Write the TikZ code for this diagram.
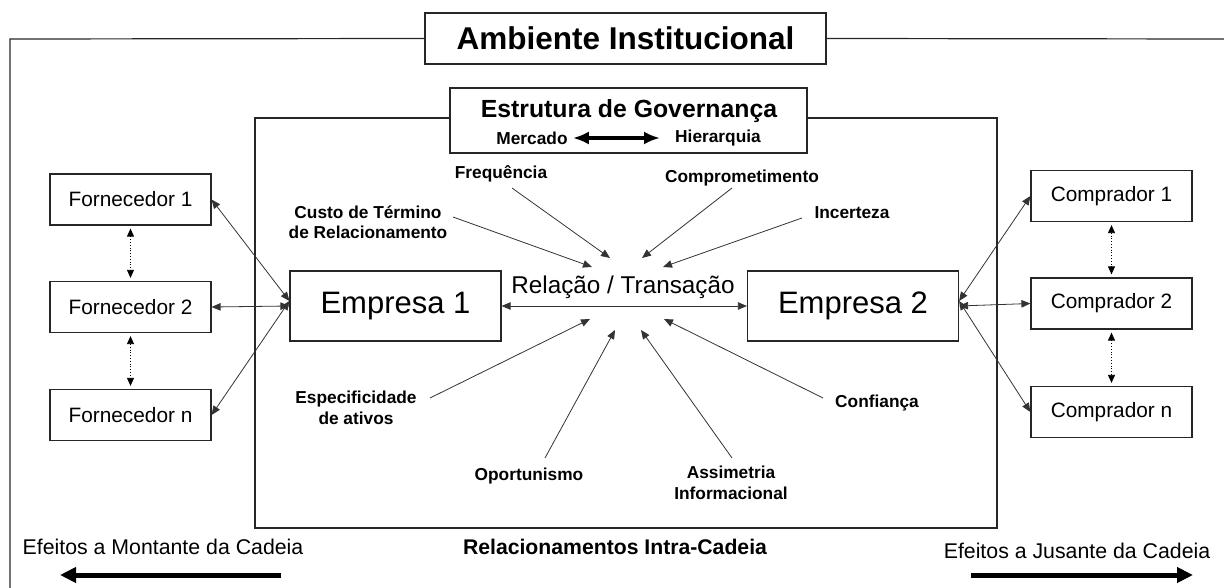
\documentclass[tikz,border=0pt]{standalone}
\usepackage{fontspec}
\setmainfont{Liberation Sans}
\usetikzlibrary{arrows.meta}
\begin{document}
\begin{tikzpicture}[x=1pt,y=-1pt,
  box/.style={draw=black!85, line width=1.2pt, fill=white, inner sep=0pt},
  chain/.style={box, minimum width=161pt, minimum height=51pt, font=\fontsize{20.8}{24}\selectfont},
  firm/.style={box, minimum width=211pt, minimum height=70pt, font=\fontsize{31}{36}\selectfont},
  lab/.style={font=\bfseries\fontsize{17.3}{20.5}\selectfont, align=center, inner sep=1pt},
  conn/.style={line width=0.8pt, draw=black!80, -{Triangle[length=9pt,width=7.5pt]}},
  bi/.style={line width=0.8pt, draw=black!80, {Triangle[length=9pt,width=7.5pt]}-{Triangle[length=9pt,width=7.5pt]}},
  dots/.style={line width=0.8pt, dotted, {Triangle[length=8pt,width=7pt]}-{Triangle[length=8pt,width=7pt]}, shorten <=3pt, shorten >=3pt},
  fat/.style={line width=5pt, -{Triangle[length=16pt,width=15pt]}}
]
\useasboundingbox (0,0) rectangle (1224,588);

% outer frame and title
\node[box, minimum width=401pt, minimum height=51pt, font=\bfseries\fontsize{31.5}{36}\selectfont] (amb) at (625.5,38.5) {Ambiente Institucional};
\coordinate (otl) at (10,39);
\coordinate (obl) at (10,588);
\coordinate (otr) at (1224,39);
\draw[line width=1.2pt, black!85] (amb.west) -- (otl) -- (obl);
\draw[line width=1.2pt, black!85] (amb.east) -- (otr);

% governance box and inner frame
\node[box, minimum width=357pt, minimum height=65pt] (est) at (628.5,120.5) {};
\coordinate (itl) at (255,118);
\coordinate (ibr) at (997,528);
\draw[line width=1.2pt, black!85] (est.west|-itl) -- (itl) -- (itl|-ibr) -- (ibr) -- (ibr|-itl) -- (est.east|-itl);
\node[font=\bfseries\fontsize{24.8}{28}\selectfont] (estt) at (629,111) {Estrutura de Governança};
\node[lab] (merc) at (532,138) {Mercado};
\node[lab] (hier) at (718,138) {Hierarquia};
\draw[line width=4pt, {Latex[length=16pt,width=13pt]}-{Latex[length=16pt,width=13pt]}, shorten <=4pt, shorten >=14pt] (merc.east) -- (hier.west);

% chain boxes
\node[chain] (f1) at (130.5,199.5) {Fornecedor 1};
\node[chain] (f2) at (130.5,307) {Fornecedor 2};
\node[chain] (fn) at (130.5,415) {Fornecedor n};
\node[chain] (c1) at (1111.5,196) {Comprador 1};
\node[chain] (c2) at (1111.5,303.5) {Comprador 2};
\node[chain] (cn) at (1111.5,412) {Comprador n};
\draw[dots] (f1.south) -- (f2.north);
\draw[dots] (f2.south) -- (fn.north);
\draw[dots] (c1.south) -- (c2.north);
\draw[dots] (c2.south) -- (cn.north);

% firms
\node[firm] (e1) at (395.5,306) {Empresa 1};
\node[firm] (e2) at (853,306) {Empresa 2};
\node[font=\fontsize{24.3}{28}\selectfont] (rel) at (623,287) {Relação / Transação};
\draw[bi] (e1.east) -- (e2.west);

\draw[bi] ([yshift=5pt]e1.west) -- (f1.east);
\draw[bi] (e1.west) -- (f2.east);
\draw[bi] ([yshift=5pt]e1.west) -- (fn.east);
\draw[bi] ([yshift=5pt]e2.east) -- (c1.west);
\draw[bi] (e2.east) -- (c2.west);
\draw[bi] ([yshift=5pt]e2.east) -- (cn.west);

% factor labels
\node[lab] (custo) at (368,222) {Custo de Término\\de Relacionamento};
\node[lab] (freq) at (501,174) {Frequência};
\node[lab] (comp) at (742,178) {Comprometimento};
\node[lab] (inc) at (852,213) {Incerteza};
\node[lab] (esp) at (356,408) {Especificidade\\de ativos};
\node[lab] (opo) at (529,476) {Oportunismo};
\node[lab] (ass) at (731,483) {Assimetria\\Informacional};
\node[lab] (conf) at (877,403) {Confiança};

\coordinate (custoS) at (453,217); \coordinate (custoT) at (592,267);
\coordinate (freqS) at (512,188);  \coordinate (freqT) at (610,258);
\coordinate (compS) at (732,188);  \coordinate (compT) at (642,258);
\coordinate (incS) at (802,218);   \coordinate (incT) at (663,267);
\coordinate (espS) at (430,398);   \coordinate (espT) at (590,319);
\coordinate (opoS) at (545,458);   \coordinate (opoT) at (615,330);
\coordinate (assS) at (732,458);   \coordinate (assT) at (641,330);
\coordinate (confS) at (823,398);  \coordinate (confT) at (664,319);
\draw[conn] (custoS) -- (custoT);
\draw[conn] (freqS) -- (freqT);
\draw[conn] (compS) -- (compT);
\draw[conn] (incS) -- (incT);
\draw[conn] (espS) -- (espT);
\draw[conn] (opoS) -- (opoT);
\draw[conn] (assS) -- (assT);
\draw[conn] (confS) -- (confT);

% bottom
\node[font=\bfseries\fontsize{21.2}{24}\selectfont] (intra) at (615,547) {Relacionamentos Intra-Cadeia};
\node[font=\fontsize{21.3}{24}\selectfont] (mont) at (163,547) {Efeitos a Montante da Cadeia};
\node[font=\fontsize{21.3}{24}\selectfont] (jus) at (1077,551) {Efeitos a Jusante da Cadeia};
\coordinate (mS) at (281,575); \coordinate (mT) at (60,575);
\coordinate (jS) at (971,575); \coordinate (jT) at (1193,575);
\draw[fat] (mS) -- (mT);
\draw[fat] (jS) -- (jT);
\end{tikzpicture}
\end{document}
